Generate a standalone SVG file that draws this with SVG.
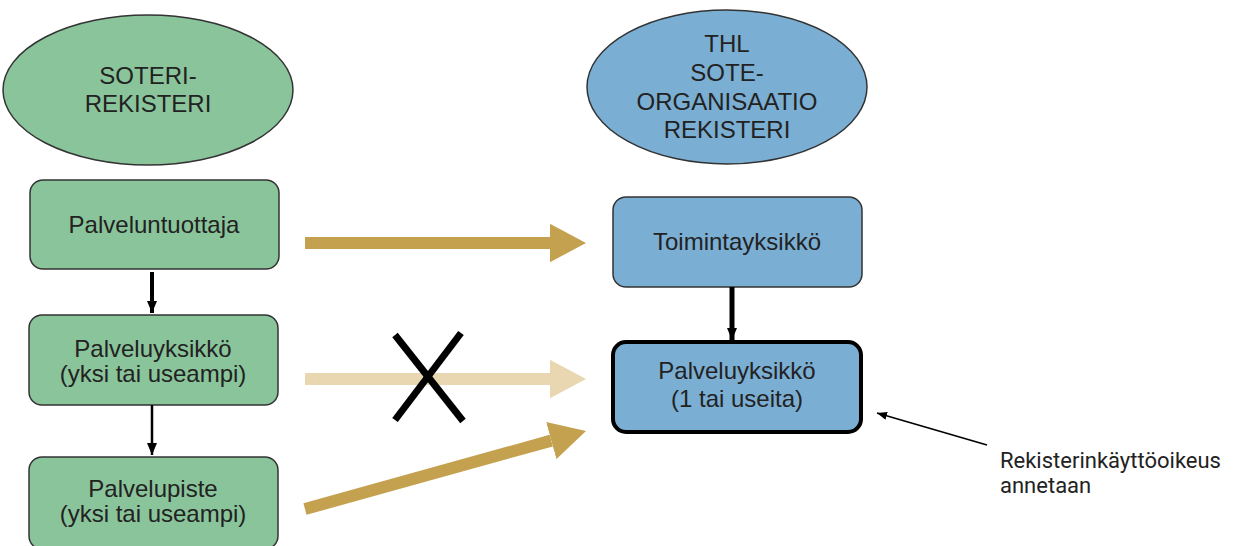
<svg xmlns="http://www.w3.org/2000/svg" width="1236" height="546" viewBox="0 0 1236 546">
<style>
.g{fill:#8AC49B;stroke:#333;stroke-width:1.5}
.b{fill:#7BAED3;stroke:#333;stroke-width:1.5}
.bt{fill:#7BAED3;stroke:#000;stroke-width:4}
.t{font-family:"Liberation Sans",Arial,sans-serif;font-size:24px;fill:#222;text-anchor:middle}
.n{font-family:Roboto,"Liberation Sans",sans-serif;font-size:22px;fill:#222}
.gold{stroke:#C3A14F;stroke-width:12;fill:none}
.pale{stroke:#E8D7B0;stroke-width:12;fill:none}
</style>
<defs>
<marker id="hg" markerUnits="strokeWidth" markerWidth="3" markerHeight="3.2" viewBox="0 0 3 3.2" refX="0" refY="1.6" orient="auto"><path d="M0,0 L3,1.6 L0,3.2 z" fill="#C3A14F"/></marker>
<marker id="hp" markerUnits="strokeWidth" markerWidth="3" markerHeight="3.2" viewBox="0 0 3 3.2" refX="0" refY="1.6" orient="auto"><path d="M0,0 L3,1.6 L0,3.2 z" fill="#E8D7B0"/></marker>
<marker id="hk" markerUnits="userSpaceOnUse" markerWidth="12" markerHeight="10" viewBox="0 0 12 10" refX="12" refY="5" orient="auto"><path d="M0,0 L12,5 L0,10 z" fill="#000"/></marker>
<marker id="hs" markerUnits="userSpaceOnUse" markerWidth="10" markerHeight="8" viewBox="0 0 10 8" refX="10" refY="4" orient="auto"><path d="M0,0 L10,4 L0,8 z" fill="#000"/></marker>
</defs>
<g id="soteri"><ellipse class="g" cx="148" cy="90" rx="145" ry="75"/><text class="t" x="148" y="84">SOTERI-</text><text class="t" x="148" y="112">REKISTERI</text></g>
<g id="thl"><ellipse class="b" cx="727" cy="87" rx="140" ry="77"/><text class="t" x="727" y="52">THL</text><text class="t" x="727" y="81">SOTE-</text><text class="t" x="727" y="110">ORGANISAATIO</text><text class="t" x="727" y="138">REKISTERI</text></g>
<g id="palveluntuottaja"><rect class="g" x="30" y="180" width="249" height="89" rx="13"/><text class="t" x="154" y="233">Palveluntuottaja</text></g>
<g id="palveluyksikko-l"><rect class="g" x="29" y="315" width="249" height="90" rx="13"/><text class="t" x="153" y="357">Palveluyksikkö</text><text class="t" x="153" y="382">(yksi tai useampi)</text></g>
<g id="palvelupiste"><rect class="g" x="29" y="457" width="249" height="92" rx="13"/><text class="t" x="153" y="497">Palvelupiste</text><text class="t" x="153" y="522">(yksi tai useampi)</text></g>
<g id="toimintayksikko"><rect class="b" x="613" y="197" width="249" height="90" rx="13"/><text class="t" x="737" y="250">Toimintayksikkö</text></g>
<g id="palveluyksikko-r"><rect class="bt" x="613" y="342" width="248" height="90" rx="13"/><text class="t" x="737" y="379">Palveluyksikkö</text><text class="t" x="737" y="407">(1 tai useita)</text></g>
<g id="note"><text class="n" x="1000" y="468">Rekisterinkäyttöoikeus</text><text class="n" x="1000" y="493">annetaan</text></g>
<g id="connectors">
<line class="gold" x1="305" y1="243" x2="550" y2="243" marker-end="url(#hg)"/>
<line class="pale" x1="305" y1="379" x2="550" y2="379" marker-end="url(#hp)"/>
<line class="gold" x1="305" y1="509" x2="551.3" y2="440.6" marker-end="url(#hg)"/>
<line x1="152" y1="272" x2="152" y2="313" stroke="#000" stroke-width="4" marker-end="url(#hk)"/>
<line x1="152" y1="405" x2="152" y2="455" stroke="#000" stroke-width="2.5" marker-end="url(#hk)"/>
<line x1="732" y1="287" x2="732" y2="340" stroke="#000" stroke-width="5" marker-end="url(#hk)"/>
<line x1="987" y1="445" x2="877" y2="413" stroke="#000" stroke-width="1.5" marker-end="url(#hs)"/>
<line x1="395" y1="335" x2="463" y2="421" stroke="#000" stroke-width="7"/>
<line x1="461" y1="333" x2="395" y2="420" stroke="#000" stroke-width="7"/>
</g>
</svg>
